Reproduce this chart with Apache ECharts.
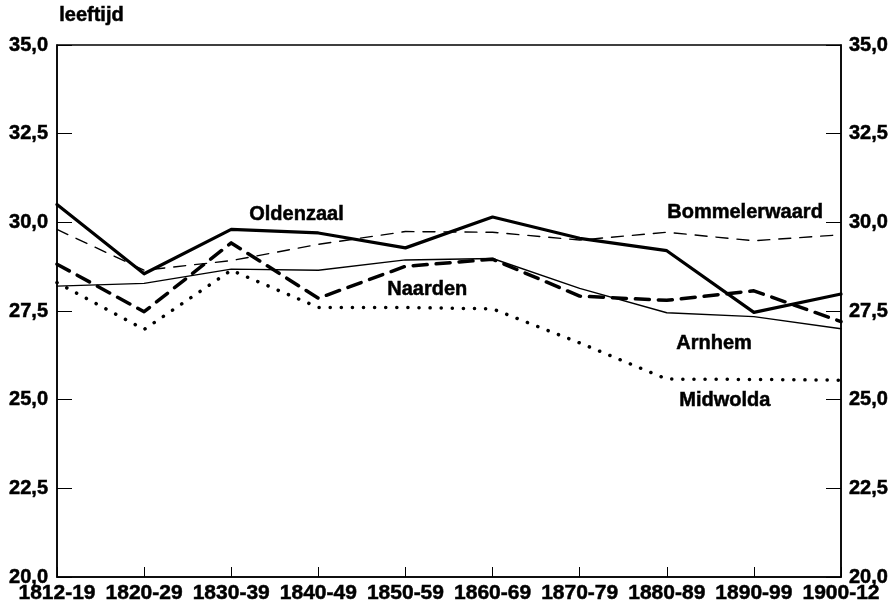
<!DOCTYPE html>
<html>
<head>
<meta charset="utf-8">
<script src="https://cdn.jsdelivr.net/npm/echarts@6/dist/echarts.min.js"></script>
<style>
  html, body { margin: 0; padding: 0; background: #fff; }
  #leeftijd { width: 893px; height: 607px; }
</style>
</head>
<body>
<div id="leeftijd"></div>
<script>
var myChart = echarts.init(document.getElementById("leeftijd"));

// perioden
var perioden = ['1812-19', '1820-29', '1830-39', '1840-49', '1850-59',
                '1860-69', '1870-79', '1880-89', '1890-99', '1900-12'];

// gemiddelde leeftijd per plaats
var oldenzaal     = [30.5, 28.55, 29.8, 29.7, 29.28, 30.15, 29.55, 29.2, 27.46, 27.98];
var bommelerwaard = [29.8, 28.65, 28.92, 29.38, 29.74, 29.72, 29.5, 29.72, 29.48, 29.65];
var arnhem        = [28.2, 28.28, 28.68, 28.65, 28.94, 28.98, 28.14, 27.45, 27.34, 27.0];
var naarden       = [28.82, 27.48, 29.42, 27.86, 28.76, 28.96, 27.92, 27.8, 28.07, 27.2];
var midwolda      = [28.3, 26.98, 28.65, 27.6, 27.6, 27.56, 26.6, 25.58, 25.57, 25.55];

var yTicks = [20, 22.5, 25, 27.5, 30, 32.5, 35];

var font = 'Liberation Sans, Arial, sans-serif';

function komma(v) {
    return v.toFixed(1).replace('.', ',');
}

// tekst iets zwaarder maken, zoals in het origineel
var zwaar = {textBorderColor: '#000', textBorderWidth: 0.5};

var yAs = function(pos) {
    return {
        type: 'value',
        position: pos,
        min: yTicks[0],
        max: yTicks[yTicks.length - 1],
        interval: 2.5,
        axisLine: {show: true, lineStyle: {color: '#000', width: 1.5}},
        axisTick: {show: true, inside: true, length: 15, lineStyle: {color: '#000', width: 1}},
        axisLabel: Object.assign({
            formatter: komma,
            color: '#000',
            fontFamily: font,
            fontWeight: 'bold',
            fontSize: 20,
            margin: pos == 'left' ? 9 : 8
        }, zwaar),
        splitLine: {show: false}
    };
};

var lijn = function(naam, data, width, type) {
    return {
        name: naam,
        type: 'line',
        data: data,
        symbol: 'none',
        silent: true,
        lineStyle: {color: '#000', width: width, type: type, cap: 'round', join: 'round'}
    };
};

var labelStijl = {fontFamily: font, fontWeight: 'bold', fontSize: 20, fill: '#000',
                  stroke: '#000', lineWidth: 0.5};

function tekst(str, x, y) {
    return {
        type: 'text',
        left: x,
        top: y,
        style: Object.assign({text: str}, labelStijl)
    };
}

option = {
    backgroundColor: '#fff',
    animation: false,
    grid: {
        left: 57,
        right: 52,
        top: 45,
        bottom: 30,
        show: true,
        borderColor: '#000',
        borderWidth: 1.5
    },
    xAxis: {
        type: 'category',
        data: perioden,
        boundaryGap: false,
        axisLine: {lineStyle: {color: '#000', width: 1.5}},
        axisTick: {inside: true, length: 10, lineStyle: {color: '#000'}},
        axisLabel: Object.assign({
            color: '#000',
            fontFamily: font,
            fontWeight: 'bold',
            fontSize: 21,
            margin: 6,
            interval: 0
        }, zwaar),
        splitLine: {show: false}
    },
    yAxis: [yAs('left'), yAs('right')],
    series: [
        lijn('Oldenzaal', oldenzaal, 3.2, 'solid'),
        lijn('Bommelerwaard', bommelerwaard, 1.4, [12, 9]),
        lijn('Arnhem', arnhem, 1.4, 'solid'),
        lijn('Naarden', naarden, 3.5, [14, 9]),
        lijn('Midwolda', midwolda, 3.5, [0.1, 11])
    ],
    graphic: [
        tekst('leeftijd', 59, 5),
        tekst('Oldenzaal', 249, 204),
        tekst('Bommelerwaard', 667, 202),
        tekst('Naarden', 387, 279),
        tekst('Arnhem', 676, 333),
        tekst('Midwolda', 679, 390)
    ]
};

myChart.setOption(option);
</script>
</body>
</html>
